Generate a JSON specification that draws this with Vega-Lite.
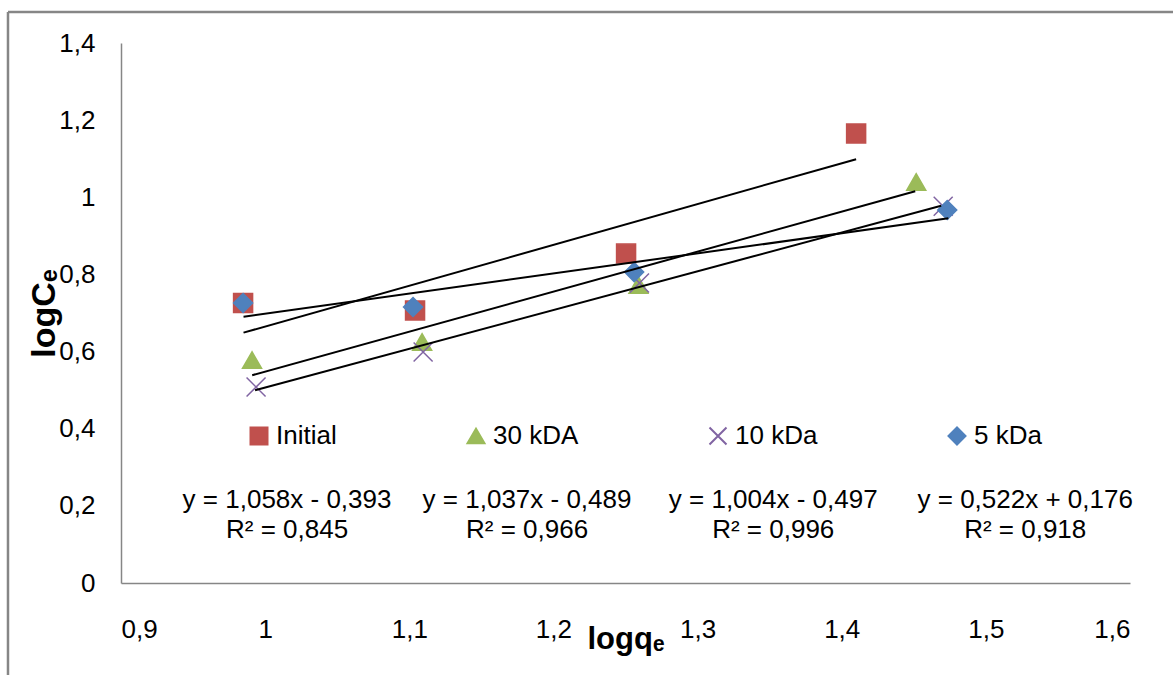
{
  "$schema": "https://vega.github.io/schema/vega-lite/v6.json",
  "width": 1009,
  "height": 540,
  "autosize": {"type": "none"},
  "padding": {"left": 121, "top": 43, "right": 43, "bottom": 92},
  "background": "white",
  "config": {
    "view": {"stroke": null},
    "font": "Liberation Sans",
    "axis": {
      "grid": false,
      "ticks": false,
      "domainColor": "#868686",
      "domainWidth": 1.5,
      "labelFont": "Liberation Sans",
      "labelFontSize": 26,
      "labelColor": "#000000",
      "titleFont": "Liberation Sans",
      "titleFontWeight": "bold",
      "titleColor": "#000000"
    },
    "legend": {
      "labelFont": "Liberation Sans",
      "labelFontSize": 26,
      "labelColor": "#000000"
    }
  },
  "datasets": {
    "points": [
      {"series": "Initial", "logq": 0.9847, "logC": 0.726},
      {"series": "Initial", "logq": 1.104, "logC": 0.7065},
      {"series": "Initial", "logq": 1.2504, "logC": 0.854},
      {"series": "Initial", "logq": 1.41, "logC": 1.1654},
      {"series": "30 kDA", "logq": 0.9909, "logC": 0.578},
      {"series": "30 kDA", "logq": 1.1089, "logC": 0.625},
      {"series": "30 kDA", "logq": 1.259, "logC": 0.7726},
      {"series": "30 kDA", "logq": 1.4517, "logC": 1.0397},
      {"series": "10 kDa", "logq": 0.9937, "logC": 0.508},
      {"series": "10 kDa", "logq": 1.1096, "logC": 0.599},
      {"series": "10 kDa", "logq": 1.2597, "logC": 0.778},
      {"series": "10 kDa", "logq": 1.4704, "logC": 0.977},
      {"series": "5 kDa", "logq": 0.9847, "logC": 0.726},
      {"series": "5 kDa", "logq": 1.1026, "logC": 0.7156},
      {"series": "5 kDa", "logq": 1.256, "logC": 0.806},
      {"series": "5 kDa", "logq": 1.4732, "logC": 0.967}
    ],
    "trend": [
      {"series": "Initial", "logq": 0.985, "logC": 0.6491},
      {"series": "Initial", "logq": 1.41, "logC": 1.0988},
      {"series": "30 kDA", "logq": 0.991, "logC": 0.5387},
      {"series": "30 kDA", "logq": 1.451, "logC": 1.0157},
      {"series": "10 kDa", "logq": 0.993, "logC": 0.4999},
      {"series": "10 kDa", "logq": 1.469, "logC": 0.9779},
      {"series": "5 kDa", "logq": 0.985, "logC": 0.6902},
      {"series": "5 kDa", "logq": 1.474, "logC": 0.9454}
    ],
    "equations": [
      {"series": "Initial", "logq": 1.0152, "logC": 0.215, "label": "y = 1,058x - 0,393\nR² = 0,845"},
      {"series": "30 kDA", "logq": 1.1817, "logC": 0.215, "label": "y = 1,037x - 0,489\nR² = 0,966"},
      {"series": "10 kDa", "logq": 1.3525, "logC": 0.215, "label": "y = 1,004x - 0,497\nR² = 0,996"},
      {"series": "5 kDa", "logq": 1.5273, "logC": 0.215, "label": "y = 0,522x + 0,176\nR² = 0,918"}
    ],
    "frame": [{}]
  },
  "layer": [
    {
      "data": {"name": "frame"},
      "mark": {"type": "rule", "color": "#868686", "strokeWidth": 2.5, "clip": false},
      "encoding": {
        "x": {"datum": 0.8216, "type": "quantitative", "scale": {"domain": [0.9, 1.6], "nice": false, "zero": false}},
        "x2": {"datum": 1.8},
        "y": {"datum": 1.4804, "type": "quantitative", "scale": {"domain": [0, 1.4], "nice": false, "zero": false}}
      }
    },
    {
      "data": {"name": "frame"},
      "mark": {"type": "rule", "color": "#868686", "strokeWidth": 2.5, "clip": false},
      "encoding": {
        "x": {"datum": 0.8216, "type": "quantitative"},
        "y": {"datum": 1.4804, "type": "quantitative"},
        "y2": {"datum": -0.4}
      }
    },
    {
      "data": {"name": "points"},
      "mark": {"type": "point", "filled": true, "opacity": 1, "size": 361, "strokeWidth": 1.5},
      "encoding": {
        "x": {
          "field": "logq", "type": "quantitative",
          "scale": {"domain": [0.9, 1.6], "nice": false, "zero": false},
          "axis": {
            "title": "logqₑ",
            "titleFontSize": 31,
            "values": [0.9, 1.0, 1.1, 1.2, 1.3, 1.4, 1.5, 1.6],
            "format": "~g",
            "labelExpr": "replace(datum.label, '.', ',')",
            "labelPadding": 33,
            "titleBaseline": "alphabetic",
            "titleY": 65
          }
        },
        "y": {
          "field": "logC", "type": "quantitative",
          "scale": {"domain": [0, 1.4], "nice": false, "zero": false},
          "axis": {
            "title": "logCₑ",
            "titleFontSize": 34,
            "values": [0, 0.2, 0.4, 0.6, 0.8, 1.0, 1.2, 1.4],
            "format": "~g",
            "labelExpr": "replace(datum.label, '.', ',')",
            "labelPadding": 26,
            "titleBaseline": "alphabetic",
            "titleX": -67
          }
        },
        "shape": {
          "field": "series", "type": "nominal",
          "scale": {"domain": ["Initial", "30 kDA", "10 kDa", "5 kDa"], "range": ["square", "triangle-up", "M-1,-1L1,1M-1,1L1,-1", "diamond"]},
          "legend": {
            "title": null,
            "orient": "none",
            "legendX": 125,
            "legendY": 380,
            "direction": "horizontal",
            "columns": 4,
            "gridAlign": "each",
            "columnPadding": 126,
            "symbolSize": 289,
            "symbolStrokeWidth": 2,
            "labelOffset": 4,
            "symbolOpacity": 1
          }
        },
        "fill": {
          "field": "series", "type": "nominal",
          "scale": {"domain": ["Initial", "30 kDA", "10 kDa", "5 kDa"], "range": ["#C0504D", "#9BBB59", "#8064A2", "#4F81BD"]},
          "legend": {
            "title": null,
            "orient": "none",
            "legendX": 125,
            "legendY": 380,
            "direction": "horizontal",
            "columns": 4,
            "gridAlign": "each",
            "columnPadding": 126,
            "symbolSize": 289,
            "symbolStrokeWidth": 2,
            "labelOffset": 4,
            "symbolOpacity": 1
          }
        },
        "stroke": {
          "field": "series", "type": "nominal",
          "scale": {"domain": ["Initial", "30 kDA", "10 kDa", "5 kDa"], "range": ["#C0504D", "#9BBB59", "#8064A2", "#4F81BD"]},
          "legend": {
            "title": null,
            "orient": "none",
            "legendX": 125,
            "legendY": 380,
            "direction": "horizontal",
            "columns": 4,
            "gridAlign": "each",
            "columnPadding": 126,
            "symbolSize": 289,
            "symbolStrokeWidth": 2,
            "labelOffset": 4,
            "symbolOpacity": 1
          }
        }
      }
    },
    {
      "data": {"name": "trend"},
      "mark": {"type": "line", "color": "#000000", "strokeWidth": 2},
      "encoding": {
        "x": {"field": "logq", "type": "quantitative"},
        "y": {"field": "logC", "type": "quantitative"},
        "detail": {"field": "series", "type": "nominal"}
      }
    },
    {
      "data": {"name": "equations"},
      "mark": {"type": "text", "fontSize": 26, "align": "center", "baseline": "middle", "lineBreak": "\n", "lineHeight": 30, "color": "#000000", "font": "Liberation Sans"},
      "encoding": {
        "x": {"field": "logq", "type": "quantitative"},
        "y": {"field": "logC", "type": "quantitative"},
        "text": {"field": "label", "type": "nominal"}
      }
    }
  ]
}
